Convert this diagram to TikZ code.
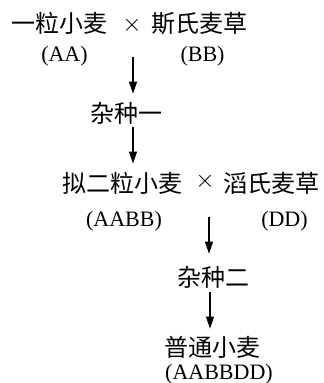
\documentclass[tikz,border=0pt]{standalone}
\usepackage{fontspec}
\setmainfont{Liberation Serif}
\newfontfamily\cjk{Noto Sans CJK SC}
\usetikzlibrary{arrows.meta}
\begin{document}
\begin{tikzpicture}[x=1pt,y=-1pt,
  plant/.style={inner sep=0pt,anchor=base,font=\cjk\fontsize{24}{24}\selectfont},
  gen/.style={inner sep=0pt,anchor=base,font=\fontsize{22}{22}\selectfont},
  cross/.style={inner sep=0pt,font=\fontsize{24}{24}\selectfont},
  arr/.style={line width=1.2pt,-{Triangle[length=12pt,width=8pt]}}]
\useasboundingbox (0,0) rectangle (324,383);
% first cross
\node[plant] (yl) at (60,32) {一粒小麦};
\node[cross] (x1) at (132,25) {$\times$};
\node[plant] (ss) at (199,32) {斯氏麦草};
\node[gen] (aa) at (64.5,61) {(AA)};
\node[gen] (bb) at (202.5,61) {(BB)};
\node[plant] (hy1) at (126.5,122) {杂种一};
% second cross
\node[plant] (ne) at (122,192) {拟二粒小麦};
\node[cross] (x2) at (205,181) {$\times$};
\node[plant] (ts) at (271.5,192) {滔氏麦草};
\node[gen] (aabb) at (124,226) {(AABB)};
\node[gen] (dd) at (284.5,226) {(DD)};
\node[plant] (hy2) at (213.5,286) {杂种二};
\node[plant] (pt) at (212.5,356) {普通小麦};
\node[gen] (aabbdd) at (219,379) {(AABBDD)};
% arrows
\coordinate (s1) at (133,57);
\coordinate (s2) at (209,217);
\draw[arr,shorten >=8pt] (s1) -- (s1 |- hy1.north);
\draw[arr,shorten <=3pt,shorten >=8pt] (s1 |- hy1.south) -- (s1 |- ne.north);
\draw[arr,shorten >=12pt] (s2) -- (s2 |- hy2.north);
\draw[arr,shorten <=4pt,shorten >=7pt] (210,0 |- hy2.south) -- (210,0 |- pt.north);
\end{tikzpicture}
\end{document}
